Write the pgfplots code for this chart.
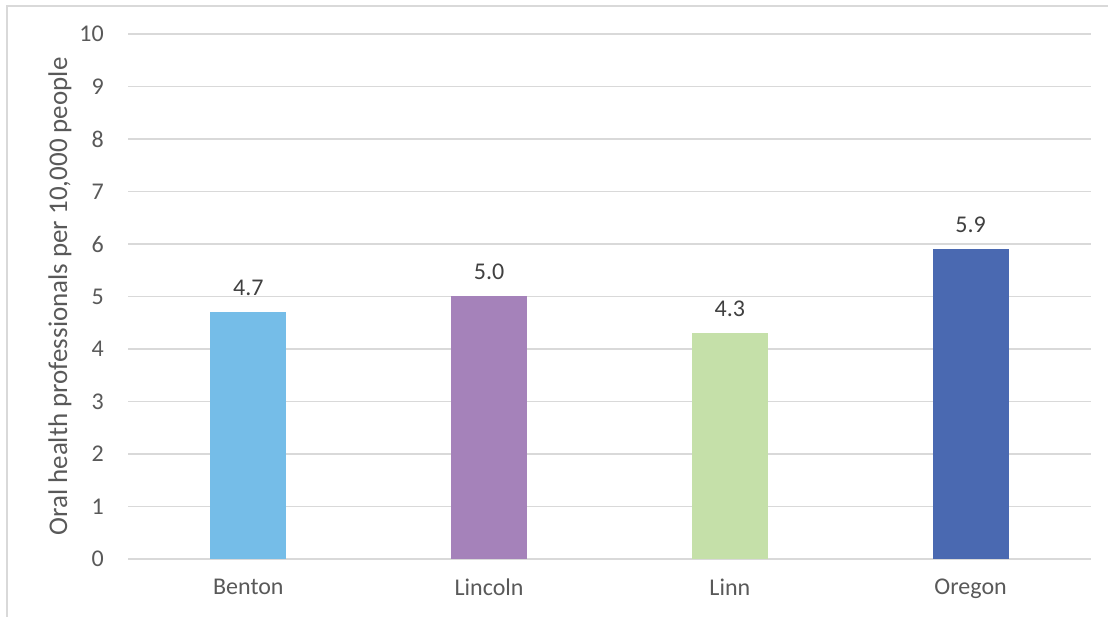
\documentclass[border=0pt]{standalone}
\usepackage{fontspec}
\setmainfont{Carlito}
\usepackage{pgfplots}
\pgfplotsset{compat=1.18}
\definecolor{cBenton}{RGB}{117,189,232}
\definecolor{cLincoln}{RGB}{165,130,186}
\definecolor{cLinn}{RGB}{197,224,169}
\definecolor{cOregon}{RGB}{74,105,177}
\definecolor{gridgray}{RGB}{217,217,217}
\definecolor{bordergray}{RGB}{217,217,217}
\definecolor{ticktext}{RGB}{89,89,89}
\definecolor{datatext}{RGB}{64,64,64}
\begin{document}
\begin{tikzpicture}[x=1pt,y=1pt]
\useasboundingbox (0,0) rectangle (1108,617);
\draw[bordergray, line width=1.5pt] (7,0) -- (7,611) -- (1108,611);
\begin{axis}[
  at={(128pt,58pt)}, anchor=south west,
  scale only axis, width=963pt, height=525pt,
  xmin=-0.5, xmax=3.5, ymin=0, ymax=10,
  xtick={0,1,2,3}, xticklabels={Benton,Lincoln,Linn,Oregon},
  ytick={0,1,...,10},
  ymajorgrids, grid style={gridgray, line width=1.5pt},
  axis line style={draw=none},
  major tick length=0pt,
  /pgf/number format/assume math mode=true,
  tick label style={font=\fontsize{24}{28}\selectfont, text=ticktext, inner sep=0pt},
  yticklabel style={anchor=east, xshift=-24pt},
  xticklabel style={anchor=north, yshift=-20pt},
  ylabel={Oral health professionals per 10,000 people},
  ylabel style={font=\fontsize{27}{30}\selectfont, text=ticktext, at={(axis description cs:-0.0706,0.5)}, anchor=center, rotate=0},
  ybar, bar width=76pt,
  every axis plot/.append style={bar shift=0pt, draw=none},
  nodes near coords={\pgfmathprintnumber[fixed,fixed zerofill,precision=1,assume math mode=true]{\pgfplotspointmeta}},
  every node near coord/.append style={font=\fontsize{24}{28}\selectfont, text=datatext, anchor=south, inner sep=0pt, yshift=16.5pt},
]
\addplot[fill=cBenton] coordinates {(0,4.7)};
\addplot[fill=cLincoln] coordinates {(1,5.0)};
\addplot[fill=cLinn] coordinates {(2,4.3)};
\addplot[fill=cOregon] coordinates {(3,5.9)};
\end{axis}
\end{tikzpicture}
\end{document}
